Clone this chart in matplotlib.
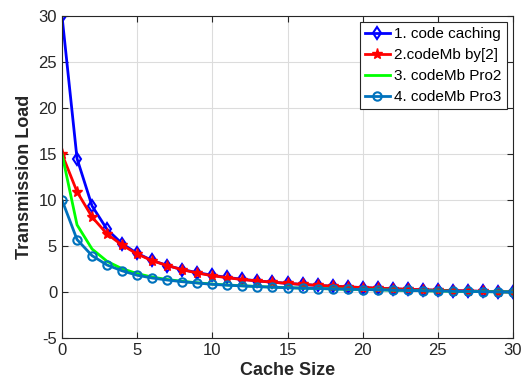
import matplotlib
matplotlib.use('Agg')
import matplotlib.pyplot as plt
import numpy as np

plt.rcParams['font.family'] = ['Liberation Sans', 'DejaVu Sans']
plt.rcParams['axes.unicode_minus'] = False

cache_size = list(range(31))

code_caching = [30, 14.5, 9.35, 6.8, 5.25, 4.2, 3.43, 2.88, 2.44, 2.1, 1.82,
                1.58, 1.38, 1.21, 1.07, 0.94, 0.82, 0.72, 0.63, 0.55, 0.48,
                0.41, 0.35, 0.29, 0.24, 0.19, 0.15, 0.11, 0.07, 0.03, 0.0]
codemb_by2 = [15, 10.9, 8.15, 6.3, 5.1, 4.13, 3.4, 2.88, 2.42, 2.06, 1.77,
              1.55, 1.35, 1.2, 1.06, 0.94, 0.82, 0.72, 0.63, 0.55, 0.48,
              0.41, 0.35, 0.29, 0.24, 0.19, 0.15, 0.11, 0.07, 0.03, 0.0]
codemb_pro2 = [15, 7.3, 4.67, 3.33, 2.53, 2.0, 1.62, 1.36, 1.16, 1.0, 0.86,
               0.76, 0.68, 0.6, 0.53, 0.47, 0.42, 0.38, 0.34, 0.3, 0.27,
               0.24, 0.2, 0.17, 0.14, 0.11, 0.08, 0.06, 0.04, 0.02, 0.0]
codemb_pro3 = [10, 5.7, 3.95, 2.93, 2.3, 1.82, 1.52, 1.3, 1.12, 0.98, 0.83,
               0.74, 0.66, 0.59, 0.52, 0.46, 0.42, 0.38, 0.34, 0.3, 0.27,
               0.24, 0.2, 0.17, 0.14, 0.11, 0.08, 0.06, 0.04, 0.02, 0.0]

fig = plt.figure(figsize=(5.22, 3.91), dpi=100)
ax = fig.add_axes([62/522, 1 - 338/391, (513-62)/522, (338-16)/391])

ax.plot(cache_size, code_caching, color='#0000ff', lw=2, marker='d',
        mfc='none', mew=1.5, ms=6, label='1. code caching')
ax.plot(cache_size, codemb_by2, color='#ff0000', lw=2, marker='*',
        ms=8, mew=1, label='2.codeMb by[2]')
ax.plot(cache_size, codemb_pro2, color='#00ff00', lw=2, label='3. codeMb Pro2')
ax.plot(cache_size, codemb_pro3, color='#0072bd', lw=2, marker='o',
        mfc='none', mew=1.5, ms=6, label='4. codeMb Pro3')

ax.set_xlim(0, 30)
ax.set_ylim(-5, 30)
ax.set_xticks(range(0, 31, 5))
ax.set_yticks(range(-5, 31, 5))
ax.grid(True, color='#dcdcdc', lw=0.8)
ax.set_axisbelow(True)
ax.tick_params(direction='in', labelsize=12, top=True, right=True,
               colors='#262626', length=4)
for s in ax.spines.values():
    s.set_color('#262626')

ax.set_xlabel('Cache Size', fontsize=13, fontweight='bold', color='#262626', labelpad=3)
ax.set_ylabel('Transmission Load', fontsize=13, fontweight='bold', color='#262626', labelpad=4)

leg = ax.legend(loc='upper right', fontsize=11, fancybox=False, framealpha=1,
                edgecolor='#262626', handlelength=1.6, handletextpad=0.3,
                borderaxespad=0.4, labelspacing=0.45, borderpad=0.35)
leg.get_frame().set_linewidth(0.8)

fig.savefig('out.png', dpi=100)
